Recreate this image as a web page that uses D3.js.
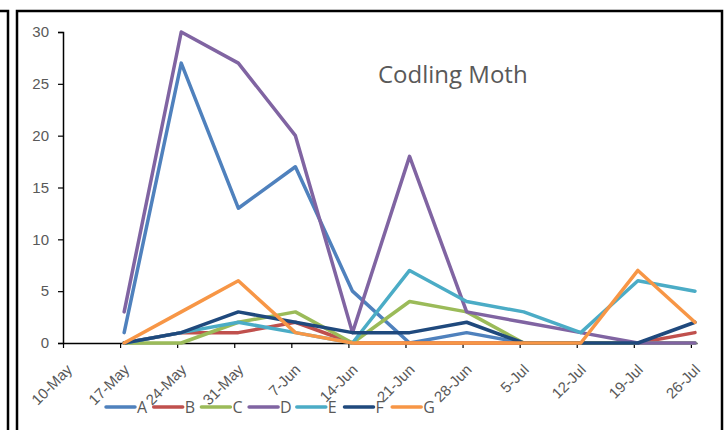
<!DOCTYPE html>
<html>
<head>
<meta charset="utf-8">
<script src="https://cdn.jsdelivr.net/npm/d3@7"></script>
<style>
  body { margin: 0; background: #fff; }
  svg { display: block; font-family: "Open Sans", sans-serif; }
</style>
</head>
<body>
<div id="chart"></div>
<script>
// weekly trap counts
const weeks = ["17-May", "24-May", "31-May", "7-Jun", "14-Jun", "21-Jun", "28-Jun", "5-Jul", "12-Jul", "19-Jul", "26-Jul"];
const tickLabels = ["10-May", "17-May", "24-May", "31-May", "7-Jun", "14-Jun", "21-Jun", "28-Jun", "5-Jul", "12-Jul", "19-Jul", "26-Jul"];
const yTicks = [0, 5, 10, 15, 20, 25, 30];

const seriesA = [1, 27, 13, 17, 5, 0, 1, 0, 0, 0, 0];
const seriesB = [0, 1, 1, 2, 0, 0, 0, 0, 0, 0, 1];
const seriesC = [0, 0, 2, 3, 0, 4, 3, 0, 0, 0, 0];
const seriesD = [3, 30, 27, 20, 1, 18, 3, 2, 1, 0, 0];
const seriesE = [0, 1, 2, 1, 0, 7, 4, 3, 1, 6, 5];
const seriesF = [0, 1, 3, 2, 1, 1, 2, 0, 0, 0, 2];
const seriesG = [0, 3, 6, 1, 0, 0, 0, 0, 0, 7, 2];

const names = ["A", "B", "C", "D", "E", "F", "G"];
const colors = ["#4F81BD", "#C0504D", "#9BBB59", "#8064A2", "#4BACC6", "#1F497D", "#F79646"];
const allSeries = [seriesA, seriesB, seriesC, seriesD, seriesE, seriesF, seriesG];

const W = 726, H = 430;
const parse = d3.timeParse("%d-%b-%Y");
const toDate = s => parse(s + "-2013");

const svg = d3.select("#chart").append("svg")
    .attr("width", W)
    .attr("height", H);

// frames (neighbouring chart edge + this chart's border)
svg.append("path")
    .attr("d", "M0,11H8V432")
    .attr("fill", "none").attr("stroke", "#000").attr("stroke-width", 2.5);
svg.append("rect")
    .attr("x", 17).attr("y", 11).attr("width", 705).attr("height", 440)
    .attr("fill", "#fff").attr("stroke", "#000").attr("stroke-width", 2.5);

const x = d3.scaleTime()
    .domain([toDate("10-May"), d3.timeHour.offset(toDate("26-Jul"), 18)])
    .range([63, 697]);

const y = d3.scaleLinear()
    .domain([0, 30])
    .range([343, 32]);

// y axis
const yAxis = svg.append("g")
    .attr("transform", "translate(63,0)")
    .call(d3.axisLeft(y).tickValues(yTicks).tickSize(5).tickPadding(9));
yAxis.select(".domain").attr("stroke", "#000").attr("stroke-width", 1.5);
yAxis.selectAll(".tick line").attr("stroke", "#000").attr("stroke-width", 1.2);
yAxis.selectAll("text")
    .attr("fill", "#595959")
    .style("font-size", "15px");

// x axis
const xAxis = svg.append("g")
    .attr("transform", "translate(0,343)")
    .call(d3.axisBottom(x)
        .tickValues(tickLabels.map(toDate))
        .tickFormat((d, i) => tickLabels[i])
        .tickSize(5)
        .tickSizeOuter(0));
xAxis.select(".domain").attr("stroke", "#000").attr("stroke-width", 1.5);
xAxis.selectAll(".tick line").attr("stroke", "#000").attr("stroke-width", 1.2);
xAxis.selectAll("text")
    .attr("fill", "#595959")
    .style("font-size", "15px")
    .attr("text-anchor", "end")
    .attr("dy", 0)
    .attr("transform", "translate(4,22) rotate(-45)");

// lines, points sit half a day after the week date
const line = d3.line()
    .x((d, i) => x(d3.timeHour.offset(toDate(weeks[i]), 12)))
    .y(d => y(d))
    .curve(d3.curveLinear);

svg.append("g").selectAll("path")
    .data(allSeries)
    .enter()
    .append("path")
    .attr("d", d => line(d))
    .attr("fill", "none")
    .attr("stroke", (d, i) => colors[i])
    .attr("stroke-width", 3.5)
    .attr("stroke-linejoin", "round")
    .attr("stroke-linecap", "round");

// title
svg.append("text")
    .attr("x", 378)
    .attr("y", 83)
    .attr("fill", "#595959")
    .style("font-size", "24px")
    .text("Codling Moth");

// legend
const legend = svg.append("g").selectAll("g")
    .data(names)
    .enter()
    .append("g")
    .attr("transform", (d, i) => `translate(${106 + i * 47.7},407)`);

legend.append("line")
    .attr("x1", 0).attr("x2", 29)
    .attr("stroke", (d, i) => colors[i])
    .attr("stroke-width", 3.5)
    .attr("stroke-linecap", "round");

legend.append("text")
    .attr("x", 31)
    .attr("y", 6)
    .attr("fill", "#595959")
    .style("font-size", "16px")
    .text(d => d);
</script>
</body>
</html>
